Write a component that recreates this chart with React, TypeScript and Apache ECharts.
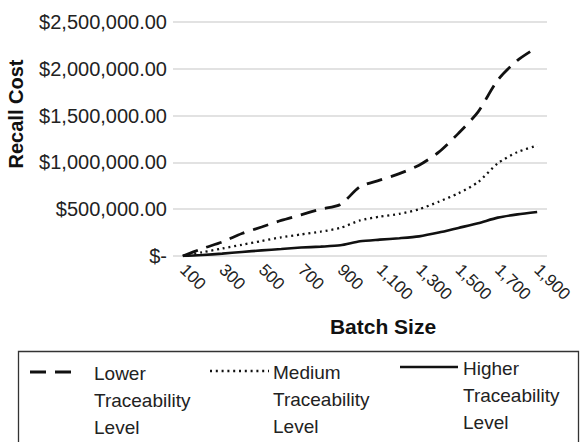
import React, { useEffect, useRef } from "react";
import * as echarts from "echarts";

// Batch sizes along the x axis
const batchSizes = [100, 200, 300, 400, 500, 600, 700, 800, 900, 1000, 1100, 1200, 1300, 1400, 1500, 1600, 1700, 1800, 1900];

// Recall cost (USD) per traceability level
const lowerCost = [0, 80000, 150000, 240000, 310000, 380000, 440000, 500000, 550000, 740000, 810000, 880000, 970000, 1110000, 1310000, 1540000, 1880000, 2090000, 2230000];
const mediumCost = [0, 40000, 80000, 120000, 160000, 200000, 230000, 260000, 300000, 380000, 420000, 450000, 500000, 580000, 670000, 790000, 990000, 1110000, 1180000];
const higherCost = [0, 10000, 25000, 43000, 60000, 75000, 90000, 100000, 114000, 157000, 175000, 190000, 210000, 250000, 300000, 350000, 410000, 445000, 470000];

const seriesNames = ["Lower\nTraceability\nLevel", "Medium\nTraceability\nLevel", "Higher\nTraceability\nLevel"];

const FONT = "'Liberation Sans', Arial, sans-serif";

const dashStyle: number[] = [16, 9];
const dotStyle: number[] = [2, 3.8];

export default function App() {
  const ref = useRef<HTMLDivElement>(null);

  useEffect(() => {
    if (!ref.current) return;
    const chart = echarts.init(ref.current, undefined, { renderer: "svg" });

    const fmtMoney = (v: number) =>
      v === 0 ? "$-" : "$" + v.toLocaleString("en-US", { minimumFractionDigits: 2, maximumFractionDigits: 2 });

    const legendText = (x: number, y: number, text: string) => ({
      type: "text",
      x,
      y,
      style: {
        text,
        fontFamily: FONT,
        fontSize: 19,
        lineHeight: 27,
        fill: "#222",
        textVerticalAlign: "top",
      },
    });

    chart.setOption({
      animation: false,
      backgroundColor: "#fff",
      grid: { left: 173, right: 35, top: 22, bottom: 186, containLabel: false },
      xAxis: {
        type: "category",
        data: batchSizes.map((b) => b.toLocaleString("en-US")),
        boundaryGap: true,
        axisLine: { show: false },
        axisTick: { show: false },
        axisLabel: {
          interval: 1,
          rotate: -45,
          margin: 11,
          fontSize: 17,
          fontFamily: FONT,
          color: "#222",
        },
      },
      yAxis: {
        type: "value",
        min: 0,
        max: 2500000,
        interval: 500000,
        axisLine: { show: false },
        axisTick: { show: false },
        splitLine: { lineStyle: { color: "#d9d9d9", width: 1.5 } },
        axisLabel: {
          formatter: fmtMoney,
          margin: 6,
          fontSize: 20,
          fontFamily: FONT,
          color: "#222",
        },
      },
      series: [
        {
          name: seriesNames[0],
          type: "line",
          data: lowerCost,
          symbol: "none",
          smooth: 0.25,
          lineStyle: { color: "#111", width: 2.8, type: dashStyle },
        },
        {
          name: seriesNames[1],
          type: "line",
          data: mediumCost,
          symbol: "none",
          smooth: 0.25,
          lineStyle: { color: "#111", width: 2.3, type: dotStyle },
        },
        {
          name: seriesNames[2],
          type: "line",
          data: higherCost,
          symbol: "none",
          smooth: 0.25,
          lineStyle: { color: "#111", width: 2.6 },
        },
      ],
      graphic: [
        {
          type: "text",
          x: 16,
          y: 114,
          rotation: Math.PI / 2,
          style: {
            text: "Recall Cost",
            fontFamily: FONT,
            fontSize: 20,
            fontWeight: "bold",
            fill: "#111",
            textAlign: "center",
            textVerticalAlign: "middle",
          },
        },
        {
          type: "text",
          x: 383,
          y: 326,
          style: {
            text: "Batch Size",
            fontFamily: FONT,
            fontSize: 21,
            fontWeight: "bold",
            fill: "#111",
            textAlign: "center",
            textVerticalAlign: "middle",
          },
        },
        {
          type: "rect",
          shape: { x: 18.5, y: 351.5, width: 560, height: 120 },
          style: { fill: "none", stroke: "#333", lineWidth: 1.3 },
        },
        {
          type: "line",
          shape: { x1: 30, y1: 372, x2: 76, y2: 372 },
          style: { stroke: "#111", lineWidth: 2.8, lineDash: dashStyle },
        },
        legendText(94, 359.5, seriesNames[0]),
        {
          type: "line",
          shape: { x1: 210, y1: 371, x2: 269, y2: 371 },
          style: { stroke: "#111", lineWidth: 2.3, lineDash: dotStyle },
        },
        legendText(273, 358.5, seriesNames[1]),
        {
          type: "line",
          shape: { x1: 400, y1: 367, x2: 458, y2: 367 },
          style: { stroke: "#111", lineWidth: 2.6 },
        },
        legendText(463, 354.5, seriesNames[2]),
      ],
    });

    return () => chart.dispose();
  }, []);

  return <div ref={ref} style={{ position: "fixed", left: 0, top: 0, width: 582, height: 442 }} />;
}
